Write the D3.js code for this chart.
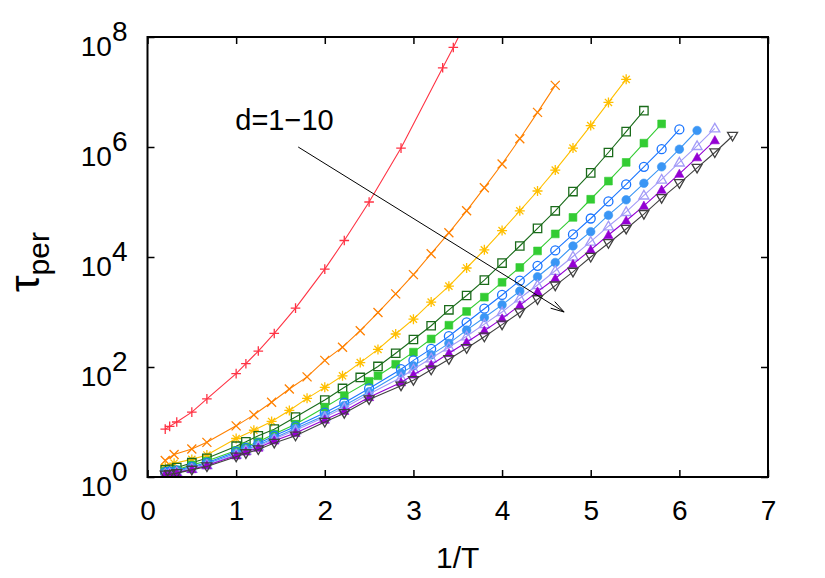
<!DOCTYPE html>
<html><head><meta charset="utf-8">
<script src="https://cdn.jsdelivr.net/npm/d3@7"></script>
<style>
body{margin:0;background:#fff}
svg{display:block}
text{font-family:"Liberation Sans",Arial,Helvetica,sans-serif;fill:#000}
</style>
</head><body>
<svg id="chart" width="825" height="578"></svg>
<script>
// ---------------- data (x = 1/T, y = log10 of tau_per) ----------------
const X_TICKS = [0, 1, 2, 3, 4, 5, 6, 7];
const Y_TICKS = [1, 1e2, 1e4, 1e6, 1e8];
const SERIES_NAMES = ["d=1","d=2","d=3","d=4","d=5","d=6","d=7","d=8","d=9","d=10"];

const d1x = [0.2,0.25,0.33,0.5,0.67,1.0,1.11,1.25,1.43,1.67,2.0,2.22,2.5,2.86,3.33,3.45,3.57];
const d1y = [0.87,0.92,1.0,1.18,1.42,1.88,2.06,2.29,2.61,3.07,3.78,4.3,5.0,5.98,7.44,7.81,8.2];

const d2x = [0.2,0.3,0.5,0.67,1.0,1.2,1.4,1.6,1.8,2.0,2.2,2.4,2.6,2.8,3.0,3.2,3.4,3.6,3.8,4.0,4.2,4.4,4.6];
const d2y = [0.30,0.41,0.51,0.63,0.93,1.13,1.36,1.60,1.82,2.12,2.36,2.66,2.99,3.33,3.68,4.06,4.44,4.84,5.26,5.69,6.15,6.63,7.12];

const d3x = [0.2,0.3,0.5,0.67,1.0,1.2,1.4,1.6,1.8,2.0,2.2,2.4,2.6,2.8,3.0,3.2,3.4,3.6,3.8,4.0,4.2,4.4,4.6,4.8,5.0,5.2,5.4];
const d3y = [0.18,0.25,0.32,0.40,0.70,0.85,1.01,1.21,1.43,1.63,1.84,2.08,2.32,2.60,2.87,3.18,3.47,3.80,4.13,4.48,4.84,5.20,5.58,5.98,6.39,6.81,7.23];

const d4x = [0.2,0.25,0.33,0.5,0.67,1.0,1.11,1.25,1.43,1.67,2.0,2.2,2.4,2.6,2.8,3.0,3.2,3.4,3.6,3.8,4.0,4.2,4.4,4.6,4.8,5.0,5.2,5.4,5.6];
const d4y = [0.13,0.14,0.17,0.26,0.34,0.56,0.64,0.75,0.87,1.09,1.40,1.61,1.81,2.01,2.25,2.50,2.75,3.04,3.30,3.58,3.89,4.20,4.52,4.84,5.19,5.53,5.90,6.28,6.66];

const d5x = [0.2,0.25,0.33,0.5,0.67,1.0,1.11,1.25,1.43,1.67,2.0,2.22,2.5,2.6,2.8,3.0,3.2,3.4,3.6,3.8,4.0,4.2,4.4,4.6,4.8,5.0,5.2,5.4,5.6,5.8];
const d5y = [0.10,0.11,0.13,0.22,0.29,0.48,0.55,0.64,0.78,0.96,1.27,1.48,1.74,1.84,2.05,2.27,2.51,2.76,3.01,3.27,3.54,3.81,4.11,4.42,4.72,5.05,5.38,5.72,6.07,6.42];

const d6x = [0.2,0.25,0.33,0.5,0.67,1.0,1.11,1.25,1.43,1.67,2.0,2.22,2.5,2.86,3.0,3.2,3.4,3.6,3.8,4.0,4.2,4.4,4.6,4.8,5.0,5.2,5.4,5.6,5.8,6.0];
const d6y = [0.09,0.10,0.12,0.19,0.26,0.46,0.53,0.61,0.75,0.92,1.17,1.35,1.61,1.96,2.12,2.33,2.56,2.81,3.06,3.31,3.57,3.84,4.12,4.41,4.70,5.01,5.32,5.64,5.96,6.32];

const d7x = [0.2,0.25,0.33,0.5,0.67,1.0,1.11,1.25,1.43,1.67,2.0,2.22,2.5,2.86,3.0,3.2,3.4,3.6,3.8,4.0,4.2,4.4,4.6,4.8,5.0,5.2,5.4,5.6,5.8,6.0,6.2];
const d7y = [0.07,0.08,0.10,0.17,0.24,0.43,0.50,0.58,0.71,0.88,1.12,1.30,1.55,1.89,2.02,2.22,2.43,2.67,2.90,3.13,3.38,3.64,3.90,4.20,4.46,4.76,5.04,5.34,5.64,5.96,6.30];

const d8x = [0.2,0.25,0.33,0.5,0.67,1.0,1.11,1.25,1.43,1.67,2.0,2.22,2.5,2.86,3.0,3.2,3.4,3.6,3.8,4.0,4.2,4.4,4.6,4.8,5.0,5.2,5.4,5.6,5.8,6.0,6.2,6.4];
const d8y = [0.06,0.07,0.09,0.15,0.22,0.41,0.48,0.56,0.69,0.85,1.09,1.26,1.51,1.81,1.96,2.16,2.36,2.56,2.78,3.00,3.25,3.49,3.75,4.01,4.28,4.56,4.82,5.12,5.41,5.72,6.02,6.34];

const d9x = [0.2,0.25,0.33,0.5,0.67,1.0,1.11,1.25,1.43,1.67,2.0,2.22,2.5,2.86,3.0,3.2,3.4,3.6,3.8,4.0,4.2,4.4,4.6,4.8,5.0,5.2,5.4,5.6,5.8,6.0,6.2,6.4];
const d9y = [0.05,0.06,0.08,0.14,0.21,0.39,0.46,0.53,0.66,0.80,1.04,1.20,1.45,1.72,1.86,2.04,2.25,2.45,2.66,2.88,3.12,3.37,3.61,3.87,4.13,4.40,4.66,4.93,5.22,5.51,5.81,6.12];

const d10x = [0.2,0.25,0.33,0.5,0.67,1.0,1.11,1.25,1.43,1.67,2.0,2.22,2.5,2.86,3.0,3.2,3.4,3.6,3.8,4.0,4.2,4.4,4.6,4.8,5.0,5.2,5.4,5.6,5.8,6.0,6.2,6.4,6.6];
const d10y = [0.04,0.05,0.07,0.13,0.19,0.37,0.43,0.50,0.62,0.75,1.00,1.16,1.41,1.66,1.76,1.95,2.14,2.34,2.55,2.77,2.99,3.23,3.48,3.73,4.00,4.25,4.51,4.78,5.07,5.34,5.62,5.90,6.20];

const SERIES_X = [d1x,d2x,d3x,d4x,d5x,d6x,d7x,d8x,d9x,d10x];
const SERIES_LOGY = [d1y,d2y,d3y,d4y,d5y,d6y,d7y,d8y,d9y,d10y];

const ARROW_FROM = [1.7, 1e6];
const ARROW_TO = [4.7, 1e3];
const ANNOT_TEXT = "d=1\u221210";
const ANNOT_POS = [0.99, 2.0e6];

// ---------------- styles ----------------
const COLORS = ["#ff3344","#ff8000","#ffbf00","#1a6b1a","#33cc33","#1a75ff","#3a96f5","#a39bf8","#9400d3","#404040"];
const MARKERS = ["plus","cross","star","squareOpen","squareFilled","circleOpen","circleFilled","triUpOpen","triUpFilled","triDownOpen"];

const W = 825, H = 578;
const M = {left:147.5, right:768, top:37, bottom:477};

const svg = d3.select("#chart");
const x = d3.scaleLinear().domain([0,7]).range([M.left, M.right]);
const y = d3.scaleLog().domain([1,1e8]).range([M.bottom, M.top]);

svg.append("defs").append("clipPath").attr("id","clip")
  .append("rect").attr("x",M.left).attr("y",M.top)
  .attr("width",M.right-M.left).attr("height",M.bottom-M.top);

// series
const plot = svg.append("g").attr("clip-path","url(#clip)");
const line = d3.line().x(d=>x(d[0])).y(d=>y(d[1]));

function markerPath(kind){
  switch(kind){
    case "plus": return "M-4.8,0H4.8M0,-4.8V4.8";
    case "cross": return "M-4.5,-4.5L4.5,4.5M-4.5,4.5L4.5,-4.5";
    case "star": return "M-5,0H5M0,-5V5M-3.6,-3.6L3.6,3.6M-3.6,3.6L3.6,-3.6";
    case "squareOpen": return "M-4.2,-4.2H4.2V4.2H-4.2Z";
    case "squareFilled": return "M-3.9,-3.9H3.9V3.9H-3.9Z";
    case "circleOpen": return d3.arc()({innerRadius:0,outerRadius:4.5,startAngle:0,endAngle:2*Math.PI});
    case "circleFilled": return d3.arc()({innerRadius:0,outerRadius:4.3,startAngle:0,endAngle:2*Math.PI});
    case "triUpOpen": return "M0,-5L5,3.6H-5Z";
    case "triUpFilled": return "M0,-4.8L4.6,3.4H-4.6Z";
    case "triDownOpen": return "M0,5L5,-3.6H-5Z";
  }
}
const filled = k => k==="squareFilled"||k==="circleFilled"||k==="triUpFilled";

SERIES_X.forEach((xs,i)=>{
  const pts = xs.map((v,j)=>[v, Math.pow(10, SERIES_LOGY[i][j])]);
  const g = plot.append("g").attr("class","series").attr("data-name",SERIES_NAMES[i]);
  g.append("path").datum(pts).attr("d",line)
    .attr("fill","none").attr("stroke",COLORS[i]).attr("stroke-width",1.1);
  const kind = MARKERS[i];
  g.selectAll("path.pt").data(pts).join("path").attr("class","pt")
    .attr("transform",d=>`translate(${x(d[0])},${y(d[1])})`)
    .attr("d",markerPath(kind))
    .attr("fill",filled(kind)?COLORS[i]:"none")
    .attr("stroke",COLORS[i]).attr("stroke-width",filled(kind)?0.6:1.3);
});

// annotation arrow
const ax0 = x(ARROW_FROM[0]), ay0 = y(ARROW_FROM[1]);
const ax1 = x(ARROW_TO[0]), ay1 = y(ARROW_TO[1]);
svg.append("line").attr("x1",ax0).attr("y1",ay0).attr("x2",ax1).attr("y2",ay1)
  .attr("stroke","#000").attr("stroke-width",1);
const ang = Math.atan2(ay1-ay0, ax1-ax0), hl = 14, ha = 0.28;
svg.append("path")
  .attr("d",`M${ax1-hl*Math.cos(ang-ha)},${ay1-hl*Math.sin(ang-ha)}L${ax1},${ay1}L${ax1-hl*Math.cos(ang+ha)},${ay1-hl*Math.sin(ang+ha)}`)
  .attr("fill","none").attr("stroke","#000").attr("stroke-width",1);
svg.append("text").attr("x",x(ANNOT_POS[0])).attr("y",y(ANNOT_POS[1]))
  .attr("font-size",29).text(ANNOT_TEXT);

// axes
const xAxis = d3.axisBottom(x).tickValues(X_TICKS).tickSizeInner(-7).tickSizeOuter(0).tickPadding(18).tickFormat(d3.format("d"));
const gx = svg.append("g").attr("transform",`translate(0,${M.bottom})`).call(xAxis);
gx.select(".domain").remove();
gx.selectAll(".tick line").attr("stroke","#000").attr("stroke-width",1.5);
gx.selectAll(".tick text").attr("font-size",28).attr("font-family","Liberation Sans, Arial, sans-serif").attr("dy","0.9em");

const xTop = d3.axisTop(x).tickValues(X_TICKS).tickSizeInner(-7).tickSizeOuter(0).tickFormat("");
const gxt = svg.append("g").attr("transform",`translate(0,${M.top})`).call(xTop);
gxt.select(".domain").remove();
gxt.selectAll(".tick line").attr("stroke","#000").attr("stroke-width",1.5);

const yAxis = d3.axisLeft(y).tickValues(Y_TICKS).tickSizeInner(-7).tickSizeOuter(0).tickPadding(20);
const gy = svg.append("g").attr("transform",`translate(${M.left},0)`).call(yAxis);
gy.select(".domain").remove();
gy.selectAll(".tick line").attr("stroke","#000").attr("stroke-width",1.5);
gy.selectAll(".tick text").each(function(d){
  const t = d3.select(this).text(null).attr("font-size",28)
    .attr("font-family","Liberation Sans, Arial, sans-serif").attr("dy","0.66em");
  t.append("tspan").text("10");
  t.append("tspan").attr("dy","-0.55em").text(String(Math.round(Math.log10(d))));
});

const yRight = d3.axisRight(y).tickValues(Y_TICKS).tickSizeInner(-7).tickSizeOuter(0).tickFormat("");
const gyr = svg.append("g").attr("transform",`translate(${M.right},0)`).call(yRight);
gyr.select(".domain").remove();
gyr.selectAll(".tick line").attr("stroke","#000").attr("stroke-width",1.5);

// border
svg.append("rect").attr("x",M.left).attr("y",M.top)
  .attr("width",M.right-M.left).attr("height",M.bottom-M.top)
  .attr("fill","none").attr("stroke","#000").attr("stroke-width",2);

// axis titles
svg.append("text").attr("x",(M.left+M.right)/2).attr("y",568)
  .attr("text-anchor","middle").attr("font-size",30).text("1/T");
const yl = svg.append("text").attr("transform","translate(39,262) rotate(-90)")
  .attr("text-anchor","middle");
yl.append("tspan").attr("font-size",42).text("\u03c4");
yl.append("tspan").attr("font-size",30).attr("dy",10).text("per");
</script>
</body></html>
